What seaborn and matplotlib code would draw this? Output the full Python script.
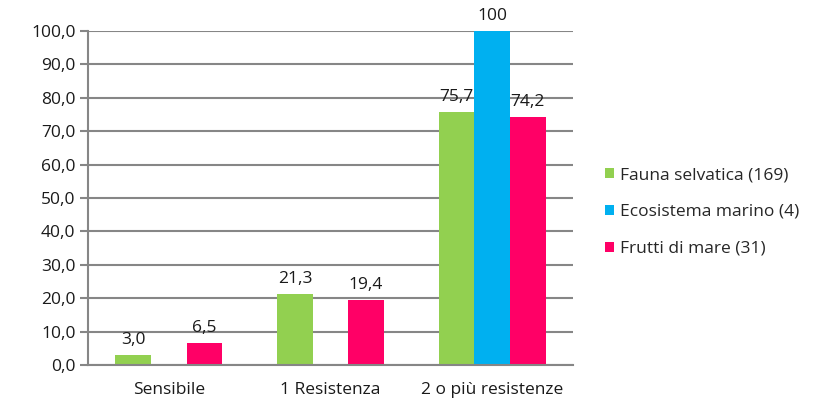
import matplotlib
matplotlib.use("Agg")
import matplotlib.pyplot as plt
import seaborn as sns
import pandas as pd
from matplotlib.patches import Patch

categories = ["Sensibile", "1 Resistenza", "2 o più resistenze"]
series_names = ["Fauna selvatica (169)", "Ecosistema marino (4)", "Frutti di mare (31)"]
fauna = [3.0, 21.3, 75.7]
ecosistema = [0.0, 0.0, 100.0]
frutti = [6.5, 19.4, 74.2]
labels_fauna = ["3,0", "21,3", "75,7"]
labels_ecosistema = ["", "", "100"]
labels_frutti = ["6,5", "19,4", "74,2"]
colors = ["#92D050", "#00B0F0", "#FF0066"]
yticks = [0, 10, 20, 30, 40, 50, 60, 70, 80, 90, 100]
ytick_labels = ["0,0", "10,0", "20,0", "30,0", "40,0", "50,0", "60,0", "70,0", "80,0", "90,0", "100,0"]

rows = []
for s, vals in zip(series_names, [fauna, ecosistema, frutti]):
    for c, v in zip(categories, vals):
        rows.append({"categoria": c, "serie": s, "valore": v})
df = pd.DataFrame(rows)

sns.set_theme(style="white")
plt.rcParams["font.family"] = ["Open Sans", "DejaVu Sans"]

FS = 12.5
TXT = "#1a1a1a"

fig = plt.figure(figsize=(8.15, 4.0), dpi=100)
ax = fig.add_axes([88 / 815, 35 / 400, (573 - 88) / 815, (365 - 31) / 400])

sns.barplot(data=df, x="categoria", y="valore", hue="serie",
            palette=colors, width=0.66, gap=0, saturation=1,
            edgecolor="none", linewidth=0, ax=ax, legend=False)

ax.set_ylim(0, 100)
ax.set_xlim(-0.5, 2.5)
ax.set_yticks(yticks)
ax.set_yticklabels(ytick_labels, fontsize=FS, color=TXT)
ax.tick_params(axis="x", labelsize=FS, colors=TXT, length=0, pad=12)
ax.tick_params(axis="y", length=6, width=1.5, color="#868686", left=True, pad=3)
ax.set_xlabel("")
ax.set_ylabel("")
ax.yaxis.grid(True, color="#868686", linewidth=1.5)
ax.set_axisbelow(True)
for side in ["top", "right"]:
    ax.spines[side].set_visible(False)
for side in ["left", "bottom"]:
    ax.spines[side].set_color("#868686")
    ax.spines[side].set_linewidth(1.5)

for cont, labs in zip(ax.containers, [labels_fauna, labels_ecosistema, labels_frutti]):
    ax.bar_label(cont, labels=labs, padding=5, fontsize=FS, color=TXT, clip_on=False)

handles = [Patch(facecolor=c, edgecolor="none") for c in colors]
fig.legend(handles, series_names, loc="center left", bbox_to_anchor=(605 / 815, 1 - 212 / 400),
           frameon=False, fontsize=FS, handlelength=0.5, handleheight=0.5,
           handletextpad=0.35, labelspacing=1.2, borderaxespad=0, borderpad=0)

fig.savefig("out.png", dpi=100)
